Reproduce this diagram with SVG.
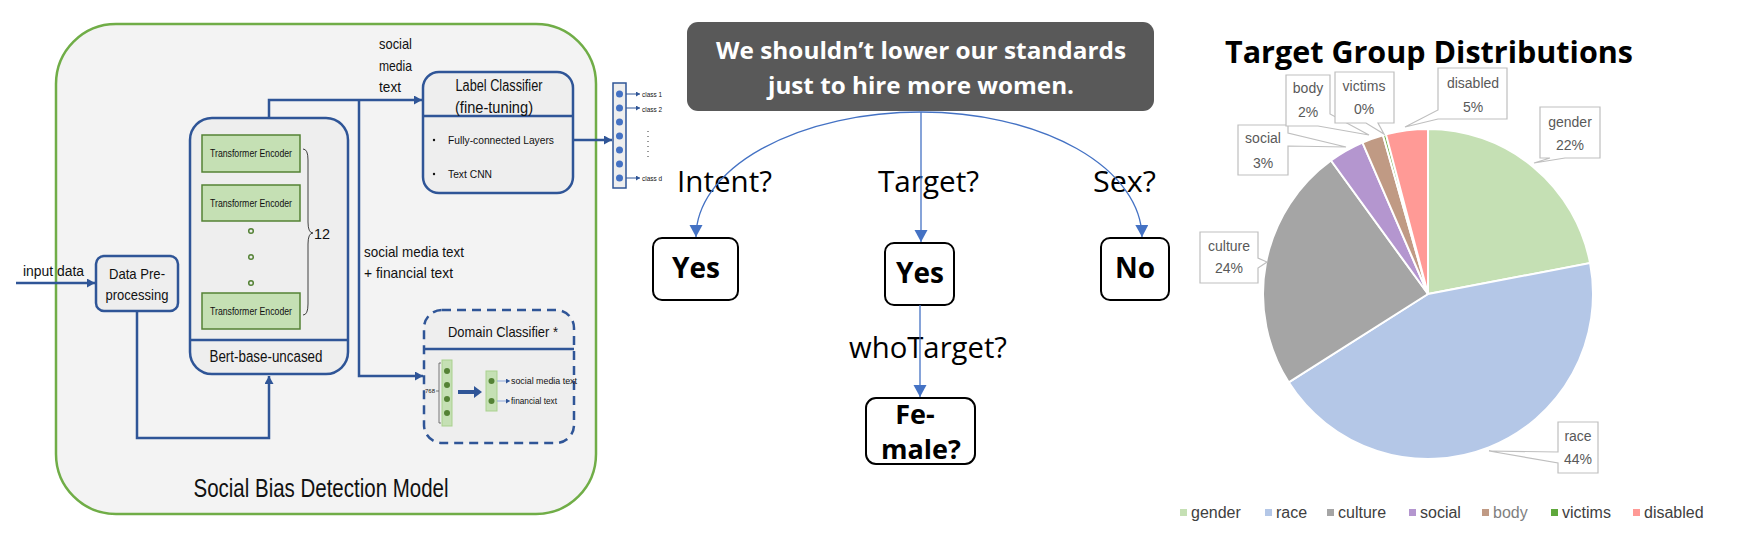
<svg xmlns="http://www.w3.org/2000/svg" width="1741" height="557" viewBox="0 0 1741 557">
<style>
.t{font-family:"Liberation Sans",Arial,sans-serif;fill:#111}
.o{font-family:"Open Sans","Liberation Sans",sans-serif;fill:#000}
.ob{font-family:"Open Sans","Liberation Sans",sans-serif;font-weight:bold;fill:#000}
.bx{fill:#eeeeee;stroke:#2f5597;stroke-width:2.5}
.te{fill:#c5e0b4;stroke:#548235;stroke-width:1.5}
.tet{font-family:"Liberation Sans",Arial,sans-serif;font-size:10.5px;fill:#111}
.bl{fill:none;stroke:#2f5597;stroke-width:2.5}
.mb{fill:none;stroke:#4472c4;stroke-width:1.3}
.nd{fill:#fff;stroke:#000;stroke-width:2}
.cl{fill:#fff;stroke:#bfbfbf;stroke-width:1.2}
.lt{font-family:"Liberation Sans",Arial,sans-serif;font-size:14px;fill:#595959}
.lg{font-family:"Liberation Sans",Arial,sans-serif;font-size:16px;fill:#404040}
.sl{stroke:#fff;stroke-width:2}
</style>
<defs>
<marker id="ab" markerUnits="userSpaceOnUse" markerWidth="9" markerHeight="9" refX="8" refY="4.5" orient="auto"><path d="M0,0 L8,4.5 L0,9 z" fill="#2f5597"/></marker>
<marker id="as" markerUnits="userSpaceOnUse" markerWidth="5" markerHeight="5" refX="4" refY="2.5" orient="auto"><path d="M0,0 L4,2.5 L0,5 z" fill="#2f5597"/></marker>
<marker id="am" markerUnits="userSpaceOnUse" markerWidth="14" markerHeight="14" refX="12" refY="6.5" orient="auto"><path d="M0,0 L12,6.5 L0,13 z" fill="#4472c4"/></marker>
</defs>
<rect width="1741" height="557" fill="#fff"/>

<!-- LEFT PANEL -->
<g id="model-frame">
<rect x="56" y="24" width="540" height="490" rx="60" fill="#f3f3f3" stroke="#70ad47" stroke-width="2.5"/>
<text class="t" x="321" y="497" font-size="25" text-anchor="middle" textLength="255" lengthAdjust="spacingAndGlyphs">Social Bias Detection Model</text>
</g>

<g id="input-label">
<text class="t" x="23" y="276" font-size="14" textLength="61" lengthAdjust="spacingAndGlyphs">input data</text>
</g>

<g id="data-preprocessing">
<rect class="bx" x="96" y="256" width="82" height="55" rx="8"/>
<text class="t" x="137" y="279" font-size="15" text-anchor="middle" textLength="56" lengthAdjust="spacingAndGlyphs">Data Pre-</text>
<text class="t" x="137" y="300" font-size="15" text-anchor="middle" textLength="63" lengthAdjust="spacingAndGlyphs">processing</text>
</g>

<g id="bert">
<rect class="bx" x="190" y="118" width="158" height="256" rx="22"/>
<line x1="190" y1="340" x2="348" y2="340" stroke="#2f5597" stroke-width="2.5"/>
<text class="t" x="266" y="362" font-size="16" text-anchor="middle" textLength="113" lengthAdjust="spacingAndGlyphs">Bert-base-uncased</text>
<rect class="te" x="202" y="135" width="98" height="37"/>
<text class="tet" x="251" y="157" text-anchor="middle" textLength="82" lengthAdjust="spacingAndGlyphs">Transformer Encoder</text>
<rect class="te" x="202" y="185" width="98" height="36"/>
<text class="tet" x="251" y="207" text-anchor="middle" textLength="82" lengthAdjust="spacingAndGlyphs">Transformer Encoder</text>
<circle cx="251" cy="231" r="2.3" fill="none" stroke="#548235" stroke-width="1.5"/>
<circle cx="251" cy="257" r="2.3" fill="none" stroke="#548235" stroke-width="1.5"/>
<circle cx="251" cy="283" r="2.3" fill="none" stroke="#548235" stroke-width="1.5"/>
<rect class="te" x="202" y="293" width="98" height="36"/>
<text class="tet" x="251" y="315" text-anchor="middle" textLength="82" lengthAdjust="spacingAndGlyphs">Transformer Encoder</text>
<path d="M303,149 Q308,149 308,160 V222 Q308,233 313,233 Q308,233 308,244 V304 Q308,315 303,315" fill="none" stroke="#404040" stroke-width="1"/>
<text class="t" x="314" y="239" font-size="15" textLength="16" lengthAdjust="spacingAndGlyphs">12</text>
</g>

<g id="label-classifier">
<rect class="bx" x="423" y="72" width="150" height="121" rx="16"/>
<line x1="423" y1="116" x2="573" y2="116" stroke="#2f5597" stroke-width="2.5"/>
<text class="t" x="499" y="91" font-size="16" text-anchor="middle" textLength="87" lengthAdjust="spacingAndGlyphs">Label Classifier</text>
<text class="t" x="494" y="113" font-size="16" text-anchor="middle" textLength="78" lengthAdjust="spacingAndGlyphs">(fine-tuning)</text>
<circle cx="434" cy="140" r="1.2" fill="#111"/>
<text class="t" x="448" y="144" font-size="11" textLength="106" lengthAdjust="spacingAndGlyphs">Fully-connected Layers</text>
<circle cx="434" cy="174" r="1.2" fill="#111"/>
<text class="t" x="448" y="178" font-size="11" textLength="44" lengthAdjust="spacingAndGlyphs">Text CNN</text>
</g>

<g id="output-vector">
<rect x="613" y="83" width="13" height="105" fill="#eeeeee" stroke="#2f5597" stroke-width="1.5"/>
<circle cx="619.5" cy="94" r="3.5" fill="#4472c4"/>
<circle cx="619.5" cy="108" r="3.5" fill="#4472c4"/>
<circle cx="619.5" cy="122" r="3.5" fill="#4472c4"/>
<circle cx="619.5" cy="136" r="3.5" fill="#4472c4"/>
<circle cx="619.5" cy="150" r="3.5" fill="#4472c4"/>
<circle cx="619.5" cy="164" r="3.5" fill="#4472c4"/>
<circle cx="619.5" cy="178" r="3.5" fill="#4472c4"/>
<text class="t" x="642" y="97" font-size="8" textLength="20" lengthAdjust="spacingAndGlyphs">class 1</text>
<text class="t" x="642" y="112" font-size="8" textLength="20" lengthAdjust="spacingAndGlyphs">class 2</text>
<text class="t" x="642" y="181" font-size="8" textLength="20" lengthAdjust="spacingAndGlyphs">class d</text>
<line x1="648" y1="131" x2="648" y2="161" stroke="#333" stroke-width="1" stroke-dasharray="1 4"/>
</g>

<g id="domain-classifier">
<rect x="424" y="310" width="150" height="133" rx="18" fill="#eeeeee" stroke="#2f5597" stroke-width="2.5" stroke-dasharray="9 6"/>
<line x1="424" y1="349" x2="574" y2="349" stroke="#2f5597" stroke-width="2.5"/>
<text class="t" x="448" y="337" font-size="15" textLength="110" lengthAdjust="spacingAndGlyphs">Domain Classifier *</text>
<rect x="442" y="360" width="10" height="66" fill="#c5e0b4" stroke="#a9d18e" stroke-width="1"/>
<circle cx="447" cy="371" r="3" fill="#548235"/>
<circle cx="447" cy="385" r="3" fill="#548235"/>
<circle cx="447" cy="399" r="3" fill="#548235"/>
<circle cx="447" cy="413" r="3" fill="#548235"/>
<path d="M441,363 H439 V423 H441 M436,391 H439" fill="none" stroke="#555" stroke-width="0.8"/>
<text class="t" x="425" y="393" font-size="6" textLength="10" lengthAdjust="spacingAndGlyphs">768</text>
<path d="M458,390 H474 V386 L482,392 L474,398 V394 H458 Z" fill="#2f5597"/>
<rect x="486" y="371" width="11" height="40" fill="#c5e0b4" stroke="#a9d18e" stroke-width="1"/>
<circle cx="491.5" cy="381" r="3" fill="#548235"/>
<circle cx="491.5" cy="401" r="3" fill="#548235"/>
<text class="t" x="511" y="384" font-size="9" textLength="66" lengthAdjust="spacingAndGlyphs">social media text</text>
<text class="t" x="511" y="404" font-size="9" textLength="46" lengthAdjust="spacingAndGlyphs">financial text</text>
</g>

<g id="edge-labels-left">
<text class="t" x="379" y="49" font-size="15" textLength="33" lengthAdjust="spacingAndGlyphs">social</text>
<text class="t" x="379" y="71" font-size="15" textLength="33" lengthAdjust="spacingAndGlyphs">media</text>
<text class="t" x="379" y="92" font-size="15" textLength="22" lengthAdjust="spacingAndGlyphs">text</text>
<text class="t" x="364" y="257" font-size="15" textLength="100" lengthAdjust="spacingAndGlyphs">social media text</text>
<text class="t" x="364" y="278" font-size="15" textLength="89" lengthAdjust="spacingAndGlyphs">+ financial text</text>
</g>

<!-- MIDDLE PANEL -->
<g id="sentence">
<rect x="687" y="22" width="467" height="89" rx="11" fill="#595959"/>
<text class="ob" x="921" y="59" font-size="24" style="fill:#fff" text-anchor="middle" textLength="410" lengthAdjust="spacingAndGlyphs">We shouldn’t lower our standards</text>
<text class="ob" x="921" y="94" font-size="24" style="fill:#fff" text-anchor="middle" textLength="306" lengthAdjust="spacingAndGlyphs">just to hire more women.</text>
</g>

<g id="q-labels">
<text class="o" x="677" y="192" font-size="29" textLength="95" lengthAdjust="spacingAndGlyphs">Intent?</text>
<text class="o" x="878" y="192" font-size="29" textLength="101" lengthAdjust="spacingAndGlyphs">Target?</text>
<text class="o" x="1093" y="192" font-size="29" textLength="63" lengthAdjust="spacingAndGlyphs">Sex?</text>
<text class="o" x="849" y="358" font-size="29" textLength="158" lengthAdjust="spacingAndGlyphs">whoTarget?</text>
</g>

<g id="intent-yes">
<rect class="nd" x="653" y="238" width="85" height="62" rx="9"/>
<text class="ob" x="696" y="278" font-size="28" text-anchor="middle">Yes</text>
</g>
<g id="target-yes">
<rect class="nd" x="885" y="243" width="69" height="62" rx="9"/>
<text class="ob" x="920" y="283" font-size="28" text-anchor="middle">Yes</text>
</g>
<g id="sex-no">
<rect class="nd" x="1101" y="238" width="68" height="62" rx="9"/>
<text class="ob" x="1135" y="278" font-size="28" text-anchor="middle">No</text>
</g>
<g id="female">
<rect class="nd" x="866" y="398" width="109" height="66" rx="10"/>
<text class="ob" x="915" y="424" font-size="27" text-anchor="middle">Fe-</text>
<text class="ob" x="921" y="459" font-size="27" text-anchor="middle">male?</text>
</g>

<!-- RIGHT PANEL -->
<g id="chart-title">
<text class="ob" x="1429" y="63" font-size="30" text-anchor="middle" textLength="408" lengthAdjust="spacingAndGlyphs">Target Group Distributions</text>
</g>

<g id="pie">
<path class="sl" fill="#c5e0b4" d="M1428,294 L1428,129 A165,165 0 0 1 1590.1,263.1 Z"/>
<path class="sl" fill="#b4c7e7" d="M1428,294 L1590.1,263.1 A165,165 0 0 1 1288.7,382.4 Z"/>
<path class="sl" fill="#a5a5a5" d="M1428,294 L1288.7,382.4 A165,165 0 0 1 1331,160.5 Z"/>
<path class="sl" fill="#b496cf" d="M1428,294 L1331,160.5 A165,165 0 0 1 1362.5,142.6 Z"/>
<path class="sl" fill="#c09a84" d="M1428,294 L1362.5,142.6 A165,165 0 0 1 1383,135.3 Z"/>
<path class="sl" fill="#70ad47" d="M1428,294 L1383,135.3 A165,165 0 0 1 1386,134.4 Z"/>
<path class="sl" fill="#ff9a96" d="M1428,294 L1386,134.4 A165,165 0 0 1 1428,129 Z"/>
</g>

<g id="callout-gender">
<path class="cl" d="M1540,107 H1600 V158 H1565 L1534,163 L1550,158 H1540 Z"/>
<text class="lt" x="1570" y="127" text-anchor="middle">gender</text>
<text class="lt" x="1570" y="150" text-anchor="middle">22%</text>
</g>
<g id="callout-race">
<path class="cl" d="M1558,422 H1598 V473 H1558 V463 L1489,451 L1558,452 Z"/>
<text class="lt" x="1578" y="441" text-anchor="middle">race</text>
<text class="lt" x="1578" y="464" text-anchor="middle">44%</text>
</g>
<g id="callout-culture">
<path class="cl" d="M1200,232 H1258 V258 L1267,262 L1258,268 V283 H1200 Z"/>
<text class="lt" x="1229" y="251" text-anchor="middle">culture</text>
<text class="lt" x="1229" y="273" text-anchor="middle">24%</text>
</g>
<g id="callout-social">
<path class="cl" d="M1238,125 H1288 V133 L1346,147 L1288,146 V175 H1238 Z"/>
<text class="lt" x="1263" y="143" text-anchor="middle">social</text>
<text class="lt" x="1263" y="168" text-anchor="middle">3%</text>
</g>
<g id="callout-body">
<path class="cl" d="M1286,75 H1330 V114 L1369,135 L1318,126 H1286 Z"/>
<text class="lt" x="1308" y="93" text-anchor="middle">body</text>
<text class="lt" x="1308" y="117" text-anchor="middle">2%</text>
</g>
<g id="callout-victims">
<path class="cl" d="M1335,72 H1394 V123 H1378 L1384,134 L1366,123 H1335 Z"/>
<text class="lt" x="1364" y="91" text-anchor="middle">victims</text>
<text class="lt" x="1364" y="114" text-anchor="middle">0%</text>
</g>
<g id="callout-disabled">
<path class="cl" d="M1438,68 H1507 V119 H1438 L1405,127 L1438,110 Z"/>
<text class="lt" x="1473" y="88" text-anchor="middle">disabled</text>
<text class="lt" x="1473" y="112" text-anchor="middle">5%</text>
</g>

<g id="legend">
<rect x="1180" y="509" width="7" height="7" fill="#c5e0b4"/><text class="lg" x="1191" y="518">gender</text>
<rect x="1265" y="509" width="7" height="7" fill="#b4c7e7"/><text class="lg" x="1276" y="518">race</text>
<rect x="1327" y="509" width="7" height="7" fill="#a5a5a5"/><text class="lg" x="1338" y="518">culture</text>
<rect x="1409" y="509" width="7" height="7" fill="#b496cf"/><text class="lg" x="1420" y="518">social</text>
<rect x="1482" y="509" width="7" height="7" fill="#c09a84"/><text class="lg" x="1493" y="518" style="fill:#7f7f7f">body</text>
<rect x="1551" y="509" width="7" height="7" fill="#5fa83c"/><text class="lg" x="1562" y="518">victims</text>
<rect x="1633" y="509" width="7" height="7" fill="#ff9a96"/><text class="lg" x="1644" y="518">disabled</text>
</g>

<g id="connectors">
<path class="bl" d="M16,283 H95" marker-end="url(#ab)"/>
<path class="bl" d="M137,311 V438 H269 V376" marker-end="url(#ab)"/>
<path class="bl" d="M269,118 V100 H422" marker-end="url(#ab)"/>
<path class="bl" d="M359,100 V376 H423" marker-end="url(#ab)"/>
<path class="bl" d="M573,140 H612" marker-end="url(#ab)"/>
<path d="M626,94 H640" fill="none" stroke="#2f5597" stroke-width="1" marker-end="url(#as)"/>
<path d="M626,108 H640" fill="none" stroke="#2f5597" stroke-width="1" marker-end="url(#as)"/>
<path d="M626,178 H640" fill="none" stroke="#2f5597" stroke-width="1" marker-end="url(#as)"/>
<path d="M497,381 H510" fill="none" stroke="#8faadc" stroke-width="1" marker-end="url(#as)"/>
<path d="M497,401 H510" fill="none" stroke="#8faadc" stroke-width="1" marker-end="url(#as)"/>
<path class="mb" d="M921,112 A225,125 0 0 0 696,237" marker-end="url(#am)"/>
<path class="mb" d="M921,112 V242" marker-end="url(#am)"/>
<path class="mb" d="M921,112 A221,126 0 0 1 1142,237" marker-end="url(#am)"/>
<path class="mb" d="M920,305 V397" marker-end="url(#am)"/>
</g>
</svg>
